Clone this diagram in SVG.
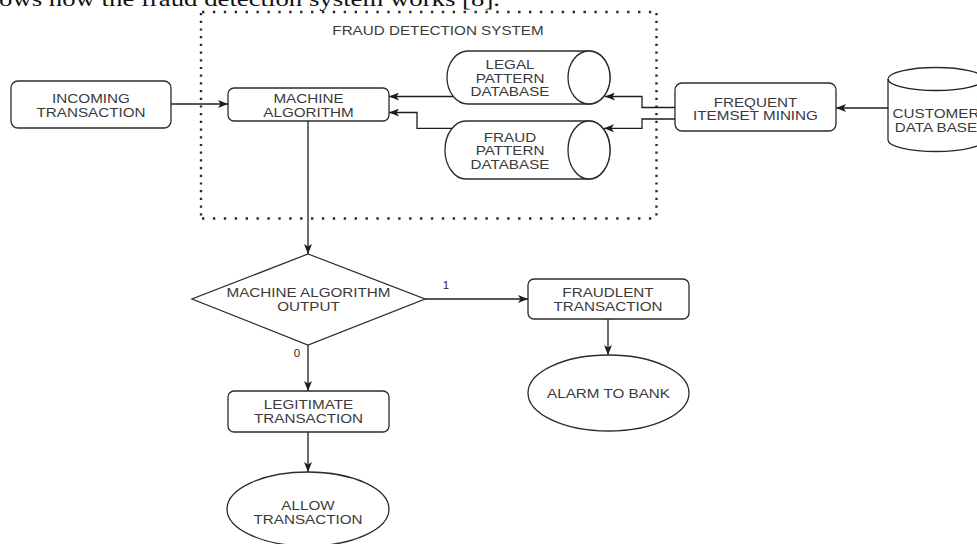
<svg xmlns="http://www.w3.org/2000/svg" width="977" height="544" viewBox="0 0 977 544">
  <style>
    .box { fill: #ffffff; stroke: #2b2b2b; stroke-width: 1.3; }
    .edge { fill: none; stroke: #1e1e1e; stroke-width: 1.3; }
    .lbl { font-family: "Liberation Sans", Arial, sans-serif; font-size: 13.6px; fill: #3a3a3a; text-anchor: middle; }
    .num { font-family: "Liberation Sans", Arial, sans-serif; font-size: 11.5px; fill: #2a2a2a; text-anchor: middle; }
    .dotH { fill: none; stroke: #2b2b2b; stroke-width: 2.4; stroke-dasharray: 2.4 8.5; }
    .dotV { fill: none; stroke: #2b2b2b; stroke-width: 2.4; stroke-dasharray: 2.2 5.5; }
    .caption { font-family: "Liberation Serif", "Times New Roman", serif; font-size: 22px; fill: #111; }
  </style>
  <defs>
    <marker id="arrow" viewBox="0 0 10 8" refX="10" refY="4" markerWidth="10" markerHeight="8" markerUnits="userSpaceOnUse" orient="auto">
      <path d="M0,0 L10,4 L0,8 L2.5,4 Z" fill="#1e1e1e"/>
    </marker>
  </defs>

  <rect width="977" height="544" fill="#ffffff"/>

  <!-- running caption line, cut by the top edge -->
  <text class="caption" x="-1" y="6" textLength="501" lengthAdjust="spacingAndGlyphs">ows how the fraud detection system works [8].</text>

  <!-- system boundary -->
  <g id="fraud-detection-system">
    <line class="dotH" x1="202" y1="12" x2="657" y2="12"/>
    <line class="dotH" x1="202" y1="218.5" x2="657" y2="218.5"/>
    <line class="dotV" x1="201" y1="13" x2="201" y2="219"/>
    <line class="dotV" x1="656.5" y1="13" x2="656.5" y2="219"/>
    <text class="lbl" transform="translate(438 35) scale(1.12 1)">FRAUD DETECTION SYSTEM</text>
  </g>

  <!-- connectors -->
  <g id="connectors">
    <path class="edge" d="M171,104 H228" marker-end="url(#arrow)"/>
    <path class="edge" d="M453,96.5 H389" marker-end="url(#arrow)"/>
    <path class="edge" d="M453,128.3 H417 V112.5 H389" marker-end="url(#arrow)"/>
    <path class="edge" d="M675,107.5 H642 V96.5 H605" marker-end="url(#arrow)"/>
    <path class="edge" d="M675,119 H642 V128.3 H604" marker-end="url(#arrow)"/>
    <path class="edge" d="M888,108 H836" marker-end="url(#arrow)"/>
    <path class="edge" d="M308,121 V254" marker-end="url(#arrow)"/>
    <path class="edge" d="M425,299 H528" marker-end="url(#arrow)"/>
    <path class="edge" d="M608,319 V355" marker-end="url(#arrow)"/>
    <path class="edge" d="M308,345 V391" marker-end="url(#arrow)"/>
    <path class="edge" d="M308,432 V472" marker-end="url(#arrow)"/>
    <text class="num" x="446" y="289">1</text>
    <text class="num" x="297" y="357">0</text>
  </g>

  <g id="incoming-transaction">
    <rect class="box" x="11" y="81" width="160" height="47" rx="7"/>
    <text class="lbl" transform="translate(91 103) scale(1.12 1)">INCOMING</text>
    <text class="lbl" transform="translate(91 117) scale(1.12 1)">TRANSACTION</text>
  </g>

  <g id="machine-algorithm">
    <rect class="box" x="228" y="88" width="161" height="33" rx="6"/>
    <text class="lbl" transform="translate(308.5 103) scale(1.12 1)">MACHINE</text>
    <text class="lbl" transform="translate(308.5 117) scale(1.12 1)">ALGORITHM</text>
  </g>

  <g id="legal-pattern-database">
    <path class="box" d="M468,51 H589 A21,26.5 0 0 1 589,104 H468 A21,26.5 0 0 1 468,51 Z"/>
    <ellipse class="box" cx="589" cy="77.5" rx="21" ry="26.5"/>
    <text class="lbl" transform="translate(510 69) scale(1.12 1)">LEGAL</text>
    <text class="lbl" transform="translate(510 82.5) scale(1.12 1)">PATTERN</text>
    <text class="lbl" transform="translate(510 96) scale(1.12 1)">DATABASE</text>
  </g>

  <g id="fraud-pattern-database">
    <path class="box" d="M466,121 H589 A21,29 0 0 1 589,179 H466 A21,29 0 0 1 466,121 Z"/>
    <ellipse class="box" cx="589" cy="150" rx="21" ry="29"/>
    <text class="lbl" transform="translate(510 141.5) scale(1.12 1)">FRAUD</text>
    <text class="lbl" transform="translate(510 155) scale(1.12 1)">PATTERN</text>
    <text class="lbl" transform="translate(510 168.5) scale(1.12 1)">DATABASE</text>
  </g>

  <g id="frequent-itemset-mining">
    <rect class="box" x="675" y="83" width="161" height="48" rx="7"/>
    <text class="lbl" transform="translate(755.5 106.5) scale(1.12 1)">FREQUENT</text>
    <text class="lbl" transform="translate(755.5 120) scale(1.12 1)">ITEMSET MINING</text>
  </g>

  <g id="customer-database">
    <path class="box" d="M888,79 A48,11.5 0 0 1 984,79 V140 A48,11.5 0 0 1 888,140 Z"/>
    <path class="edge" d="M888,79 A48,11.5 0 0 0 984,79"/>
    <text class="lbl" transform="translate(936 118) scale(1.12 1)">CUSTOMER</text>
    <text class="lbl" transform="translate(936 132) scale(1.12 1)">DATA BASE</text>
  </g>

  <g id="machine-algorithm-output">
    <path class="box" d="M308,254 L425,299 L308,345 L192,299 Z"/>
    <text class="lbl" transform="translate(308.5 296.5) scale(1.12 1)">MACHINE ALGORITHM</text>
    <text class="lbl" transform="translate(308.5 310.5) scale(1.12 1)">OUTPUT</text>
  </g>

  <g id="fraudulent-transaction">
    <rect class="box" x="528" y="279" width="161" height="40" rx="6"/>
    <text class="lbl" transform="translate(608 297) scale(1.12 1)">FRAUDLENT</text>
    <text class="lbl" transform="translate(608 311) scale(1.12 1)">TRANSACTION</text>
  </g>

  <g id="alarm-to-bank">
    <ellipse class="box" cx="608.5" cy="393" rx="80.5" ry="38"/>
    <text class="lbl" transform="translate(608.5 398) scale(1.12 1)">ALARM TO BANK</text>
  </g>

  <g id="legitimate-transaction">
    <rect class="box" x="228" y="391" width="161" height="41" rx="6"/>
    <text class="lbl" transform="translate(308.5 409) scale(1.12 1)">LEGITIMATE</text>
    <text class="lbl" transform="translate(308.5 423) scale(1.12 1)">TRANSACTION</text>
  </g>

  <g id="allow-transaction">
    <ellipse class="box" cx="308" cy="509" rx="81" ry="37"/>
    <text class="lbl" transform="translate(308 509.5) scale(1.12 1)">ALLOW</text>
    <text class="lbl" transform="translate(308 523.5) scale(1.12 1)">TRANSACTION</text>
  </g>
</svg>
